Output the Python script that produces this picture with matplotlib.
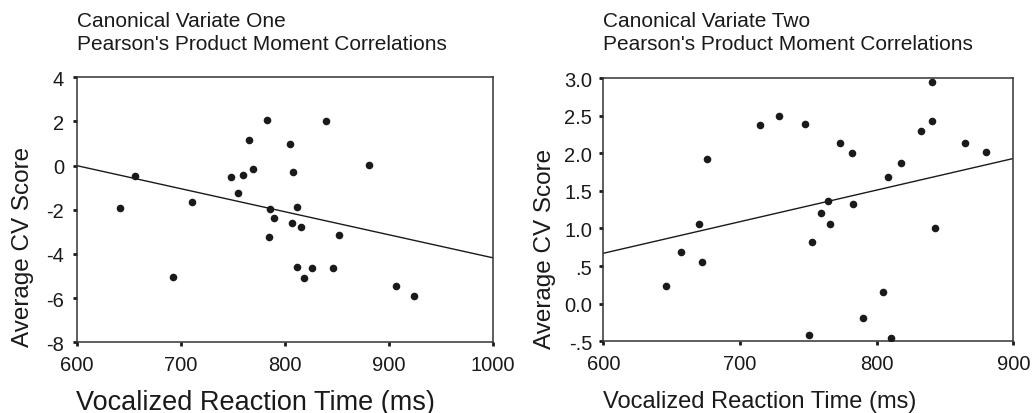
import numpy as np
import matplotlib
matplotlib.use("Agg")
import matplotlib.pyplot as plt

plt.rcParams['font.family'] = ['Liberation Sans', 'DejaVu Sans']

# canonical variate one
cv1_rt = [642.0, 656.5, 693.0, 711.0, 748.5, 755.6, 760.4, 765.5, 769.4, 782.9,
          785.1, 785.8, 790.2, 805.0, 806.9, 808.2, 812.1, 812.4, 815.3, 818.2,
          825.9, 840.0, 846.4, 852.8, 881.4, 907.3, 924.7]
cv1_score = [-1.93, -0.45, -5.04, -1.65, -0.51, -1.24, -0.41, 1.16, -0.14, 2.05,
             -3.23, -1.98, -2.35, 0.97, -2.60, -0.27, -1.89, -4.60, -2.79, -5.09,
             -4.65, 2.04, -4.63, -3.14, 0.03, -5.46, -5.89]
cv1_fit_x = [600, 1000]
cv1_fit_y = [0.0, -4.17]
cv1_xticks = [600, 700, 800, 900, 1000]
cv1_yticks = [4, 2, 0, -2, -4, -6, -8]
cv1_ylabels = ['4', '2', '0', '-2', '-4', '-6', '-8']

# canonical variate two
cv2_rt = [645.6, 656.6, 670.0, 672.2, 676.1, 714.9, 728.5, 747.6, 750.7, 752.9,
          759.5, 764.6, 765.6, 773.2, 781.7, 782.4, 790.0, 804.4, 808.0, 810.7,
          818.0, 832.2, 840.7, 840.7, 842.7, 864.4, 880.0]
cv2_score = [0.23, 0.69, 1.06, 0.56, 1.92, 2.37, 2.49, 2.39, -0.41, 0.82,
             1.20, 1.37, 1.06, 2.13, 2.00, 1.33, -0.19, 0.15, 1.69, -0.46,
             1.87, 2.29, 2.95, 2.43, 1.00, 2.13, 2.02]
cv2_fit_x = [600, 900]
cv2_fit_y = [0.67, 1.93]
cv2_xticks = [600, 700, 800, 900]
cv2_yticks = [3.0, 2.5, 2.0, 1.5, 1.0, 0.5, 0.0, -0.5]
cv2_ylabels = ['3.0', '2.5', '2.0', '1.5', '1.0', '.5', '0.0', '-.5']

ink = '#1a1a1a'
W, H = 1033, 414
fig = plt.figure(figsize=(W / 100, H / 100), dpi=100)


def px_axes(x0, y0, x1, y1):
    return fig.add_axes([x0 / W, 1 - y1 / H, (x1 - x0) / W, (y1 - y0) / H])


def ftext(x, y, s, **kw):
    # place text in pixel coords (origin top left)
    return fig.text(x / W, 1 - y / H, s, color=ink, **kw)


def draw(ax, rt, score, fx, fy, xticks, yticks, ylabels, xlim, ylim, ypad):
    ax.scatter(rt, score, s=30, color=ink, zorder=3, linewidths=0)
    ax.plot(fx, fy, color=ink, lw=1.0)
    ax.set_xlim(*xlim)
    ax.set_ylim(*ylim)
    ax.set_xticks(xticks)
    ax.set_yticks(yticks)
    ax.set_yticklabels(ylabels)
    ax.tick_params(direction='out', length=3, width=2, color=ink,
                   labelsize=14.5, labelcolor=ink)
    ax.tick_params(axis='x', pad=6)
    ax.tick_params(axis='y', pad=ypad)
    for s in ax.spines.values():
        s.set_color('#333333')
        s.set_linewidth(1.1)


ax1 = px_axes(76.7, 78.3, 492.5, 343.3)
draw(ax1, cv1_rt, cv1_score, cv1_fit_x, cv1_fit_y, cv1_xticks, cv1_yticks,
     cv1_ylabels, (600, 1000), (-8, 4), 6)

ax2 = px_axes(603.3, 79, 1013.3, 342.3)
draw(ax2, cv2_rt, cv2_score, cv2_fit_x, cv2_fit_y, cv2_xticks, cv2_yticks,
     cv2_ylabels, (600, 900), (-0.5, 3.0), 5)

# axis labels
ftext(23.5, 247, 'Average CV Score', fontsize=17.5, rotation=90,
      ha='center', va='center')
ftext(545, 249, 'Average CV Score', fontsize=17.5, rotation=90,
      ha='center', va='center')
ftext(255, 410, 'Vocalized Reaction Time (ms)', fontsize=19.5,
      ha='center', va='baseline')
ftext(760, 408, 'Vocalized Reaction Time (ms)', fontsize=17,
      ha='center', va='baseline')

# titles
for x, t1 in [(77, 'Canonical Variate One'), (603.3, 'Canonical Variate Two')]:
    ftext(x, 27, t1, fontsize=15, va='baseline')
    ftext(x, 50, "Pearson's Product Moment Correlations", fontsize=15,
          va='baseline')

fig.savefig('out.png', dpi=100)
